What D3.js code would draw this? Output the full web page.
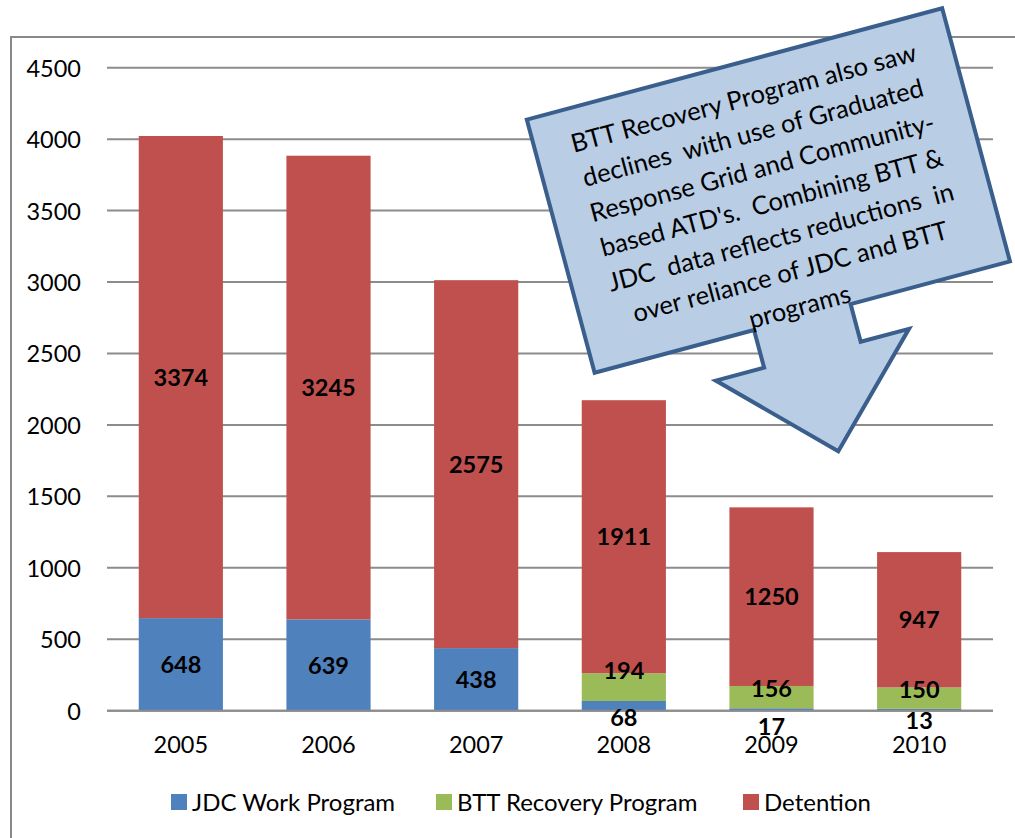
<!DOCTYPE html>
<html><head><meta charset="utf-8">
<script src="https://cdn.jsdelivr.net/npm/d3@7/dist/d3.min.js"></script>
<style>body{margin:0;background:#fff;} svg{display:block;}</style>
</head><body>
<svg id="chart" width="1015" height="838"></svg>
<script>
const years = ["2005","2006","2007","2008","2009","2010"];
const jdcWork = [648, 639, 438, 68, 17, 13];
const bttRecovery = [0, 0, 0, 194, 156, 150];
const detention = [3374, 3245, 2575, 1911, 1250, 947];
const seriesNames = ["JDC Work Program", "BTT Recovery Program", "Detention"];
const seriesColors = ["#4f81bd", "#9bbb59", "#c0504d"];
const yTicks = [0, 500, 1000, 1500, 2000, 2500, 3000, 3500, 4000, 4500];
const calloutLines = [
  "BTT Recovery Program also saw",
  "declines  with use of Graduated",
  "Response Grid and Community-",
  "based ATD's.  Combining BTT &",
  "JDC  data reflects reductions  in",
  "over reliance of JDC and BTT",
  "programs"
];

(function(){
const FONT = "Lato, 'Open Sans', sans-serif";
const svg = d3.select("#chart");
const pLeft = 107, pRight = 993, pTop = 67.7, pBottom = 710.7;

// outer frame
svg.append("rect").attr("x", 11).attr("y", 37).attr("width", 1040).attr("height", 840)
  .attr("fill", "none").attr("stroke", "#898989").attr("stroke-width", 2);

const x = d3.scaleBand().domain(years).range([pLeft, pRight]).paddingInner(0.43).paddingOuter(0.215);
const y = d3.scaleLinear().domain([0, 4500]).range([pBottom, pTop]);

// gridlines
svg.append("g").selectAll("line").data(yTicks).join("line")
  .attr("x1", pLeft).attr("x2", pRight)
  .attr("y1", d => y(d)).attr("y2", d => y(d))
  .attr("stroke", "#8c8c8c").attr("stroke-width", 2);

// y axis labels
const yAxis = d3.axisLeft(y).tickValues(yTicks).tickSize(0).tickPadding(0).tickFormat(d3.format("d"));
const yg = svg.append("g").attr("transform", `translate(${81},0)`).call(yAxis);
yg.select(".domain").remove();
yg.selectAll("text").attr("font-family", FONT).attr("font-size", 23.5).attr("fill", "#000").attr("dy", "0.36em");

// stacked data
const rows = years.map((yr, i) => ({year: yr, a: jdcWork[i], b: bttRecovery[i], c: detention[i]}));
const stacked = d3.stack().keys(["a", "b", "c"])(rows);

const barsG = svg.append("g");
stacked.forEach((layer, li) => {
  barsG.append("g").attr("fill", seriesColors[li]).selectAll("rect").data(layer).join("rect")
    .attr("x", d => x(d.data.year))
    .attr("width", x.bandwidth())
    .attr("y", d => y(d[1]))
    .attr("height", d => Math.max(0, y(d[0]) - y(d[1])));
});

// x axis line
svg.append("line").attr("x1", pLeft).attr("x2", pRight).attr("y1", y(0)).attr("y2", y(0))
  .attr("stroke", "#8c8c8c").attr("stroke-width", 2);

// x axis labels
const xAxis = d3.axisBottom(x).tickSize(0).tickPadding(0);
const xg = svg.append("g").attr("transform", `translate(0,${745})`).call(xAxis);
xg.select(".domain").remove();
xg.selectAll("text").attr("font-family", FONT).attr("font-size", 23.5).attr("fill", "#000").attr("dy", "0.36em");

// data labels (pixel nudges for small segments that Excel pushes apart)
const nudge = {"0-3": 12, "1-3": -17, "0-4": 17, "1-4": -9, "0-5": 11, "1-5": -9};
const labelsG = svg.append("g");
stacked.forEach((layer, li) => {
  layer.forEach((d, i) => {
    const v = d[1] - d[0];
    if (v <= 0) return;
    labelsG.append("text")
      .attr("x", x(d.data.year) + x.bandwidth() / 2)
      .attr("y", y((d[0] + d[1]) / 2) + (nudge[li + "-" + i] || 0))
      .attr("dy", "0.36em")
      .attr("text-anchor", "middle")
      .attr("font-family", FONT).attr("font-weight", "bold").attr("font-size", 23.5)
      .attr("fill", "#000")
      .text(v);
  });
});

// legend
const legendX = [171, 436, 743];
const lg = svg.append("g");
seriesNames.forEach((n, i) => {
  lg.append("rect").attr("x", legendX[i]).attr("y", 794).attr("width", 16).attr("height", 16).attr("fill", seriesColors[i]);
  lg.append("text").attr("x", legendX[i] + 21).attr("y", 802).attr("dy", "0.36em")
    .attr("font-family", FONT).attr("font-size", 24).attr("fill", "#000").text(n);
});

// callout
const co = svg.append("g").attr("transform", "translate(768.4,190.5) rotate(-15)");
const W = 215, H = 131;
const shape = [[-W,-H],[W,-H],[W,H],[50,H],[50,170],[100,170],[0,270],[-100,170],[-50,170],[-50,H],[-W,H]];
co.append("path").attr("d", d3.line()(shape) + "Z")
  .attr("fill", "#b9cde5").attr("stroke", "#3a5f8c").attr("stroke-width", 4).attr("stroke-linejoin", "miter");
co.append("g").selectAll("text").data(calloutLines).join("text")
  .attr("x", 0).attr("y", (d, i) => -96 + i * 36).attr("dy", "0.36em")
  .attr("text-anchor", "middle").attr("font-family", FONT).attr("font-size", 25.5).attr("fill", "#000")
  .style("white-space", "pre")
  .text(d => d);
})();
</script>
</body></html>
